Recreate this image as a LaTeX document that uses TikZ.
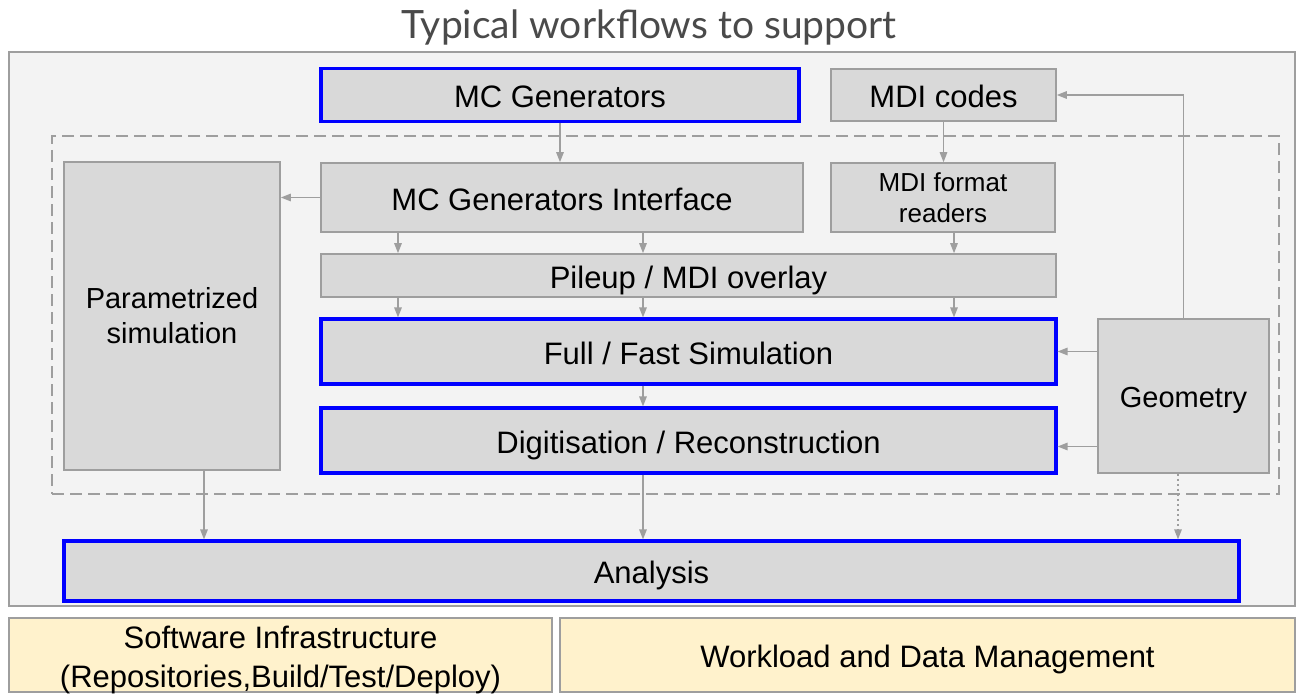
\documentclass[tikz,border=0pt]{standalone}
\usepackage{fontspec}
\setmainfont{Liberation Sans}
\newfontfamily\titlefont{Lato}
\usetikzlibrary{arrows.meta}
\definecolor{boxfill}{HTML}{D9D9D9}
\definecolor{boxline}{HTML}{9E9E9E}
\definecolor{outerfill}{HTML}{F3F3F3}
\definecolor{pureblue}{HTML}{0000FF}
\definecolor{infrafill}{HTML}{FFF2CC}
\definecolor{titlegray}{HTML}{4A4A4A}
\tikzset{
  gbox/.style={draw=boxline, fill=boxfill, line width=1.6pt, inner sep=0pt, align=center, font=\fontsize{31}{37}\selectfont},
  oneline/.style={text height=25pt, text depth=0pt},
  bbox/.style={gbox, draw=pureblue, line width=3.2pt},
  ybox/.style={gbox, fill=infrafill},
  arr/.style={draw=boxline, line width=1.4pt, -{Triangle[length=10pt,width=7.5pt]}},
}
\begin{document}
\begin{tikzpicture}[x=1pt,y=-1pt]
\path[use as bounding box, fill=white] (0,0) rectangle (1297,698);
\node[text=titlegray, font=\titlefont\fontsize{39}{44}\selectfont] (title) at (649,27) {Typical workflows to support};
\node[draw=boxline, fill=outerfill, line width=1.6pt, minimum width=1286pt, minimum height=554pt, inner sep=0pt] (outer) at (652,329) {};
\node[draw=boxline, line width=1.6pt, dash pattern=on 12pt off 6pt, minimum width=1227pt, minimum height=358pt, inner sep=0pt] (dash) at (665.5,315) {};
% boxes
\node[bbox, oneline, minimum width=478pt, minimum height=53pt] (mcg) at (560,95) {MC Generators};
\node[gbox, oneline, minimum width=225pt, minimum height=52pt] (mdi) at (943.5,95) {MDI codes};
\node[gbox, minimum width=216pt, minimum height=308pt, font=\fontsize{29}{35}\selectfont] (psim) at (172,316) {Parametrized\\simulation};
\node[gbox, oneline, minimum width=482pt, minimum height=69pt] (iface) at (562,197.5) {MC Generators Interface};
\node[gbox, minimum width=224pt, minimum height=69pt, font=\fontsize{26}{31}\selectfont] (mdir) at (943,197.5) {MDI format\\readers};
\node[gbox, oneline, minimum width=735pt, minimum height=43pt] (pile) at (688.5,275.5) {Pileup / MDI overlay};
\node[bbox, oneline, minimum width=735pt, minimum height=65pt] (full) at (688.5,351.5) {Full / Fast Simulation};
\node[bbox, oneline, minimum width=735pt, minimum height=65pt] (digi) at (688.5,440.5) {Digitisation / Reconstruction};
\node[gbox, minimum width=171pt, minimum height=154pt, font=\fontsize{29}{35}\selectfont, text height=23pt, text depth=0pt] (geo) at (1183.5,396) {Geometry};
\node[bbox, oneline, minimum width=1175pt, minimum height=60pt] (ana) at (651.5,571) {Analysis};
\node[draw=boxline, fill=infrafill, line width=1.6pt, inner sep=0pt, minimum width=543pt, minimum height=74pt, font=\fontsize{31}{39}\selectfont] (infra) at (280.5,655) {\raisebox{-32pt}[0pt][0pt]{\begin{tabular}[b]{@{}c@{}}Software Infrastructure\\(Repositories,Build/Test/Deploy)\end{tabular}}};
\node[ybox, oneline, minimum width=735pt, minimum height=74pt] (wdm) at (927.5,655) {Workload and Data Management};
% x positions
\coordinate (xa) at (398,0);
\coordinate (xb) at (643,0);
\coordinate (xc) at (954,0);
\coordinate (xp) at (204,0);
% arrows
\draw[arr] (mcg.south) -- (mcg.south |- iface.north);
\draw[arr] (mdi.south) -- (mdi.south |- mdir.north);
\draw[arr] (iface.west) -- (iface.west -| psim.east);
\draw[arr] (iface.south -| xa) -- (pile.north -| xa);
\draw[arr] (iface.south -| xb) -- (pile.north -| xb);
\draw[arr] (mdir.south -| xc) -- (pile.north -| xc);
\draw[arr] (pile.south -| xa) -- (full.north -| xa);
\draw[arr] (pile.south -| xb) -- (full.north -| xb);
\draw[arr] (pile.south -| xc) -- (full.north -| xc);
\draw[arr] (full.south -| xb) -- (digi.north -| xb);
\draw[arr] (digi.south -| xb) -- (ana.north -| xb);
\draw[arr] (psim.south -| xp) -- (ana.north -| xp);
\draw[arr] (geo.west |- full.east) -- (full.east);
\draw[arr] ([yshift=-6pt]geo.west |- digi.east) -- ([yshift=-6pt]digi.east);
\draw[arr] (geo.north) |- (mdi.east);
\draw[arr, dash pattern=on 2pt off 3pt] ([xshift=-5.5pt]geo.south) -- ([xshift=-5.5pt]geo.south |- ana.north);
\end{tikzpicture}
\end{document}
